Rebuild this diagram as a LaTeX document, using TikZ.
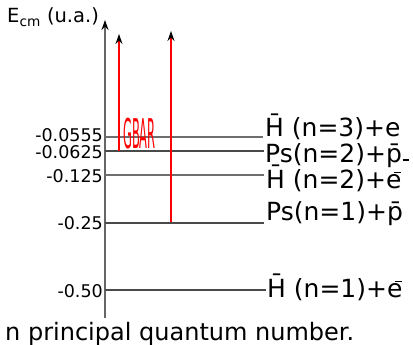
\documentclass[tikz,border=0pt]{standalone}
\usepackage{fontspec}
\setmainfont{DejaVu Sans}
\usetikzlibrary{arrows.meta}
\definecolor{lvlgray}{HTML}{4A4A4A}
\definecolor{lvllight}{HTML}{6E6E6E}
\definecolor{axgray}{HTML}{666666}
\newcommand\myeminus{\kern-7.5pt\rule[15pt]{7pt}{1.5pt}}
\newcommand\mypbar{\kern1pt\rule[1.5pt]{6pt}{1.3pt}}
\begin{document}
\begin{tikzpicture}[x=1pt,y=-1pt,
  lvl/.style={draw=lvlgray,line width=1.3pt},
  lvll/.style={draw=lvllight,line width=1.5pt},
  ax/.style={draw=axgray,line width=1.4pt,-{Stealth[length=10pt,width=7pt,color=black]}},
  tr/.style={draw=red,line width=1.3pt,-{Stealth[length=10pt,width=7pt,color=black]}},
  vlab/.style={anchor=east,inner sep=0pt,font=\fontsize{17.5}{20}\selectfont},
  slab/.style={anchor=base west,inner sep=0pt,font=\fontsize{25}{30}\selectfont},
]
\useasboundingbox (0,0) rectangle (413,345);

% axis
\coordinate (axb) at (105,318);
\coordinate (axt) at (105,20);
\draw[ax] (axb) -- (axt);
\node[anchor=base west,inner sep=0pt,font=\fontsize{19.5}{22}\selectfont] (ylab) at (7,23) {E\textsubscript{cm} (u.a.)};

% levels
\coordinate (a1) at (105,137); \coordinate (b1) at (263,137);
\coordinate (a2) at (105,151); \coordinate (b2) at (264,151);
\coordinate (a3) at (105,175); \coordinate (b3) at (264,175);
\coordinate (a4) at (105,223); \coordinate (b4) at (264,223);
\coordinate (a5) at (105,290); \coordinate (b5) at (266,290);
\draw[lvll] (a1) -- (b1);
\draw[lvl] (a2) -- (b2);
\draw[lvll] (a3) -- (b3);
\draw[lvl] (a4) -- (b4);
\draw[lvl] (a5) -- (b5);

\node[vlab] (v1) at (103,135.5) {-0.0555};
\node[vlab] (v2) at (103,152) {-0.0625};
\node[vlab] (v3) at (103,176.5) {-0.125};
\node[vlab] (v4) at (103,223) {-0.25};
\node[vlab] (v5) at (103,291) {-0.50};

\node[slab] (s1) at (265,137) {H̄ (n=3)+e};
\node[slab] (s2) at (265,162) {Ps(n=2)+p̄\mypbar};
\node[slab] (s3) at (266,188) {H̄ (n=2)+e\myeminus};
\node[slab] (s4) at (266,220) {Ps(n=1)+p̄};
\node[slab] (s5) at (267,297) {H̄ (n=1)+e\myeminus};

% transitions
\coordinate (r1b) at (119,151); \coordinate (r1t) at (119,34);
\coordinate (r2b) at (171,222); \coordinate (r2t) at (171,31);
\draw[tr] (r1b) -- (r1t);
\draw[tr] (r2b) -- (r2t);
\node[anchor=south west,inner sep=0pt,text=red] (gbar) at (123,149.5)
  {\scalebox{0.28}[1]{\fontsize{41}{41}\selectfont GBAR}};

\node[anchor=base west,inner sep=0pt,font=\fontsize{24}{28}\selectfont] (cap) at (5,340) {n principal quantum number.};
\end{tikzpicture}
\end{document}
